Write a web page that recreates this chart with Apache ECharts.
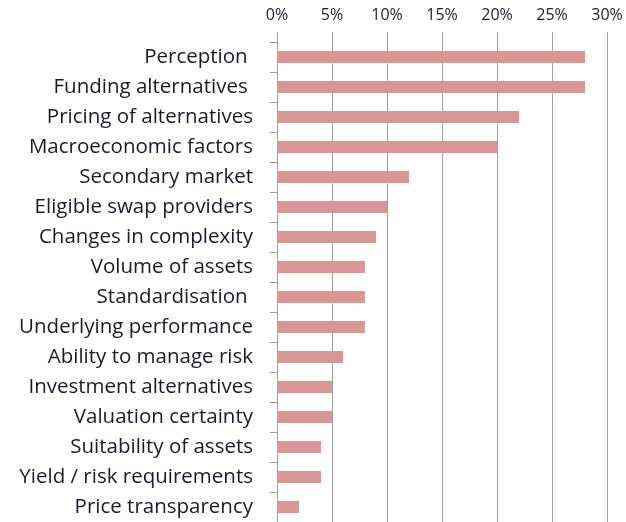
<!DOCTYPE html>
<html style="height: 100%">
<head>
 <meta charset="utf-8">
 <title>Factors</title>
</head>
<body style="height: 100%; margin: 0; background: #fff">
 <div id="container" style="width: 626px; height: 522px"></div>
 <script type="text/javascript" src="https://cdn.jsdelivr.net/npm/echarts@6/dist/echarts.min.js"></script>
 <script type="text/javascript">
    // categories listed top to bottom
    var categories = [
        'Perception ', 'Funding alternatives ', 'Pricing of alternatives',
        'Macroeconomic factors', 'Secondary market', 'Eligible swap providers',
        'Changes in complexity', 'Volume of assets', 'Standardisation ',
        'Underlying performance', 'Ability to manage risk', 'Investment alternatives',
        'Valuation certainty', 'Suitability of assets', 'Yield / risk requirements',
        'Price transparency'
    ];
    var shares = [28, 28, 22, 20, 12, 10, 9, 8, 8, 8, 6, 5, 5, 4, 4, 2];
    var tickValues = [0, 5, 10, 15, 20, 25, 30];

    var font = 'Open Sans';
    var dom = document.getElementById('container');
    var myChart = echarts.init(dom);
    myChart.setOption({
        animation: false,
        grid: { left: 277, right: 19, top: 42, bottom: 0 },
        xAxis: {
            type: 'value',
            position: 'top',
            min: tickValues[0],
            max: tickValues[tickValues.length - 1],
            interval: 5,
            axisLine: { show: false },
            axisTick: { show: true, length: 10, lineStyle: { color: '#a0a0a0' } },
            splitLine: { show: true, lineStyle: { color: '#a0a0a0', width: 1 } },
            axisLabel: {
                margin: 19,
                fontFamily: font,
                fontSize: 16,
                color: '#1c1c30',
                formatter: '{value}%'
            }
        },
        yAxis: {
            type: 'category',
            inverse: true,
            data: categories,
            axisLine: { show: true, lineStyle: { color: '#a0a0a0' } },
            axisTick: { show: true, length: 7, lineStyle: { color: '#a0a0a0' } },
            axisLabel: {
                margin: 24,
                fontFamily: font,
                fontSize: 20.5,
                color: '#1a1a2c'
            }
        },
        series: [{
            type: 'bar',
            data: shares,
            barWidth: 12,
            itemStyle: { color: '#d99694' }
        }]
    });
 </script>
</body>
</html>
